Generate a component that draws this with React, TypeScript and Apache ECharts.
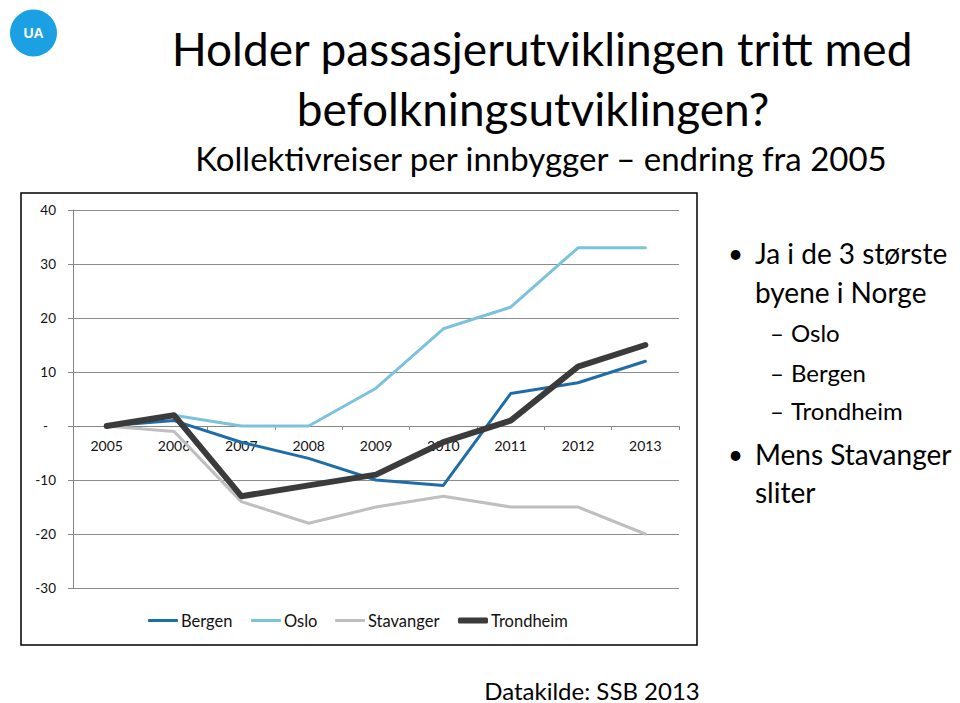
import React, { useEffect, useRef } from "react";
import * as echarts from "echarts";

const years = ["2005", "2006", "2007", "2008", "2009", "2010", "2011", "2012", "2013"];
const bergen = [0, 1, -3, -6, -10, -11, 6, 8, 12];
const oslo = [0, 2, 0, 0, 7, 18, 22, 33, 33];
const stavanger = [0, -1, -14, -18, -15, -13, -15, -15, -20];
const trondheim = [0, 2, -13, -11, -9, -3, 1, 11, 15];

const seriesNames = ["Bergen", "Oslo", "Stavanger", "Trondheim"];
const seriesColors = ["#1F6DA8", "#7CC2DC", "#BFBFBF", "#3B3B3B"];
const seriesWidths = [3, 3, 3, 6];
const seriesData = [bergen, oslo, stavanger, trondheim];
const legendLefts = [148, 251, 335, 458];

const FONT = "Lato";
const Y_MIN = -30;
const Y_MAX = 40;

export default function App() {
  const ref = useRef<HTMLDivElement>(null);
  useEffect(() => {
    if (!ref.current) return;
    const chart = echarts.init(ref.current, null, { renderer: "svg" });
    const plotTop = 210;
    const plotH = 378;
    const zeroH = Math.round((Y_MAX / (Y_MAX - Y_MIN)) * plotH);
    const option: any = {
      animation: false,
      backgroundColor: "#ffffff",
      textStyle: { fontFamily: FONT },
      grid: [
        { left: 73, top: plotTop, width: 606, height: plotH, containLabel: false },
        { left: 73, top: plotTop, width: 606, height: zeroH, containLabel: false },
      ],
      xAxis: [
        {
          type: "category",
          gridIndex: 0,
          data: years,
          boundaryGap: true,
          axisLine: { show: false },
          axisTick: { show: false },
          axisLabel: { show: false },
          splitLine: { show: false },
        },
        {
          type: "category",
          gridIndex: 1,
          position: "bottom",
          data: years,
          boundaryGap: true,
          axisLine: { onZero: false, lineStyle: { color: "#868686", width: 1 } },
          axisTick: { show: true, length: 4, lineStyle: { color: "#868686" } },
          axisLabel: { color: "#111", fontSize: 14, fontFamily: FONT, margin: 12 },
          splitLine: { show: false },
          z: 1,
        },
      ],
      yAxis: [
        {
          type: "value",
          gridIndex: 0,
          min: Y_MIN,
          max: Y_MAX,
          interval: 10,
          axisLine: { show: true, lineStyle: { color: "#868686", width: 1 } },
          axisTick: { show: true, length: 5, lineStyle: { color: "#868686" } },
          axisLabel: {
            color: "#111",
            fontSize: 13.5,
            fontFamily: FONT,
            margin: 17,
            formatter: (v: number) => (v === 0 ? "{d|-}" : String(v)),
            rich: { d: { fontSize: 13.5, fontFamily: FONT, color: "#111", padding: [0, 8, 0, 0] } },
          },
          splitLine: { show: true, lineStyle: { color: "#8C8C8C", width: 1 } },
        },
        {
          type: "value",
          gridIndex: 1,
          show: false,
          min: 0,
          max: 1,
          splitLine: { show: false },
        },
      ],
      legend: seriesNames.map((n, i) => ({
        data: [n],
        left: legendLefts[i],
        top: 612,
        padding: 0,
        icon: "roundRect",
        itemWidth: 30,
        itemHeight: seriesWidths[i],
        textStyle: { fontSize: 16.5, fontFamily: FONT, color: "#111", padding: [0, 0, 0, -2] },
        selectedMode: false,
      })),
      series: seriesNames.map((n, i) => ({
        name: n,
        type: "line",
        xAxisIndex: 0,
        yAxisIndex: 0,
        data: seriesData[i],
        symbol: "none",
        smooth: false,
        color: seriesColors[i],
        lineStyle: { color: seriesColors[i], width: seriesWidths[i], cap: "round", join: "round" },
        z: 3 + i,
      })),
      graphic: [
        { type: "rect", shape: { x: 21, y: 193, width: 676, height: 452 }, style: { fill: "none", stroke: "#000", lineWidth: 1.5 }, z: 1 },
        { type: "circle", shape: { cx: 33.5, cy: 33, r: 23.5 }, style: { fill: "#1AA0E3" } },
        { type: "text", x: 33.5, y: 33, style: { text: "UA", fill: "#fff", fontSize: 14, fontWeight: "bold", fontFamily: "Liberation Sans", align: "center", verticalAlign: "middle" } },
        { type: "text", x: 542, y: 48, style: { text: "Holder passasjerutviklingen tritt med", fill: "#000", fontSize: 46, fontFamily: FONT, align: "center", verticalAlign: "middle" } },
        { type: "text", x: 533, y: 108, style: { text: "befolkningsutviklingen?", fill: "#000", fontSize: 46, fontFamily: FONT, align: "center", verticalAlign: "middle" } },
        { type: "text", x: 541, y: 158, style: { text: "Kollektivreiser per innbygger \u2013 endring fra 2005", fill: "#000", fontSize: 33, fontFamily: FONT, align: "center", verticalAlign: "middle" } },
        { type: "text", x: 728, y: 253, style: { text: "\u2022", fill: "#000", fontSize: 26, fontFamily: FONT, align: "left", verticalAlign: "middle" } },
        { type: "text", x: 755, y: 253, style: { text: "Ja i de 3 st\u00f8rste", fill: "#000", fontSize: 28, fontFamily: FONT, align: "left", verticalAlign: "middle" } },
        { type: "text", x: 755, y: 292, style: { text: "byene i Norge", fill: "#000", fontSize: 28, fontFamily: FONT, align: "left", verticalAlign: "middle" } },
        { type: "text", x: 770, y: 332, style: { text: "\u2013", fill: "#000", fontSize: 24, fontFamily: FONT, align: "left", verticalAlign: "middle" } },
        { type: "text", x: 791, y: 332, style: { text: "Oslo", fill: "#000", fontSize: 24, fontFamily: FONT, align: "left", verticalAlign: "middle" } },
        { type: "text", x: 770, y: 372, style: { text: "\u2013", fill: "#000", fontSize: 24, fontFamily: FONT, align: "left", verticalAlign: "middle" } },
        { type: "text", x: 791, y: 372, style: { text: "Bergen", fill: "#000", fontSize: 24, fontFamily: FONT, align: "left", verticalAlign: "middle" } },
        { type: "text", x: 770, y: 410, style: { text: "\u2013", fill: "#000", fontSize: 24, fontFamily: FONT, align: "left", verticalAlign: "middle" } },
        { type: "text", x: 791, y: 410, style: { text: "Trondheim", fill: "#000", fontSize: 24, fontFamily: FONT, align: "left", verticalAlign: "middle" } },
        { type: "text", x: 728, y: 454, style: { text: "\u2022", fill: "#000", fontSize: 26, fontFamily: FONT, align: "left", verticalAlign: "middle" } },
        { type: "text", x: 755, y: 454, style: { text: "Mens Stavanger", fill: "#000", fontSize: 28, fontFamily: FONT, align: "left", verticalAlign: "middle" } },
        { type: "text", x: 755, y: 492, style: { text: "sliter", fill: "#000", fontSize: 28, fontFamily: FONT, align: "left", verticalAlign: "middle" } },
        { type: "text", x: 592, y: 690, style: { text: "Datakilde: SSB 2013", fill: "#000", fontSize: 24, fontFamily: FONT, align: "center", verticalAlign: "middle" } },
      ],
    };
    chart.setOption(option);
    return () => chart.dispose();
  }, []);
  return (
    <div
      ref={ref}
      style={{ position: "fixed", left: 0, top: 0, width: 960, height: 703, background: "#fff" }}
    />
  );
}
